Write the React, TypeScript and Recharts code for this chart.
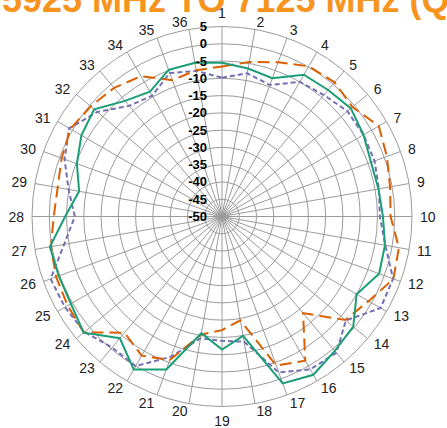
import { RadarChart, Radar, PolarGrid, PolarAngleAxis, PolarRadiusAxis } from "recharts";

const W = 447;
const H = 428;
const CX = 222;
const CY = 216.5;
const R = 190;

const angles = [
  "1", "2", "3", "4", "5", "6", "7", "8", "9", "10", "11", "12",
  "13", "14", "15", "16", "17", "18", "19", "20", "21", "22", "23", "24",
  "25", "26", "27", "28", "29", "30", "31", "32", "33", "34", "35", "36",
];

// solid teal trace
const green = [
  -5.5, -6.5, -7.4, -2.6, -2.2, -1.3, -2.7, -4.1, -4.0, -3.4, -2.1, -1.6,
  -5.0, -0.4, 0.8, 2.9, 1.4, -14.9, -11.5, -15.7, -2.9, 1.1, -4.0, 2.3,
  0.5, 0.3, 0.6, -4.6, -8.0, -5.3, -3.0, -1.7, -6.3, -8.3, -4.8, -4.8,
];

// long dash orange trace
const orange = [
  -6.6, -4.6, -2.5, 0.2, 0.7, -0.7, 2.4, 0.8, -0.6, -1.2, 2.0, 2.8,
  -1.0, -3.4, -13.5, -1.8, -4.1, -19.5, -17.1, -15.3, -5.8, -3.5, -6.1, 2.2,
  1.6, 1.1, 0.3, -1.3, -1.7, -0.6, 0.7, -0.4, -1.4, -3.1, -8.0, -7.0,
];

// short dash purple trace
const purple = [
  -9.8, -7.9, -9.5, -5.0, -4.1, -2.6, -2.7, -3.0, -3.9, -4.3, -2.0, 2.7,
  3.0, -3.2, 1.5, 1.1, -2.0, -13.2, -14.0, -14.2, -6.8, 0.0, -0.5, 2.0,
  2.5, 2.8, -3.6, -7.4, -4.9, -1.5, 1.1, -2.9, -8.2, -9.6, -5.8, -7.2,
];

const radiusTicks = [-50, -45, -40, -35, -30, -25, -20, -15, -10, -5, 0, 5];

const data = angles.map((a, i) => ({
  angle: a,
  green: green[i],
  orange: orange[i],
  purple: purple[i],
}));

// labels sit just outside the ring, anchored away from the centre
function AngleTick(props: any) {
  const { index, payload } = props;
  const deg = index * 10; // clockwise from top
  const rad = (deg * Math.PI) / 180;
  const r = R + 8;
  let x = CX + r * Math.sin(rad);
  let y = CY - r * Math.cos(rad);
  let anchor: "start" | "middle" | "end" = "middle";
  if (deg === 0) y -= 6;
  else if (deg === 180) y += 6;
  else if (deg < 180) anchor = "start";
  else anchor = "end";
  return (
    <text
      x={x}
      y={y}
      textAnchor={anchor}
      dominantBaseline="central"
      fontSize={14}
      fill="#222"
      fontFamily="'Liberation Sans', Arial, sans-serif"
    >
      {payload.value}
    </text>
  );
}

function RadiusTick(props: any) {
  const { y, payload } = props;
  return (
    <text
      x={CX - 15}
      y={y}
      textAnchor="end"
      dominantBaseline="central"
      fontSize={13}
      fontWeight="bold"
      fill="#000"
      fontFamily="'Liberation Sans', Arial, sans-serif"
    >
      {payload.value}
    </text>
  );
}

export default function App() {
  return (
    <div
      style={{
        position: "fixed",
        left: 0,
        top: 0,
        width: W,
        height: H,
        overflow: "hidden",
        background: "#fff",
      }}
    >
      <RadarChart
        width={W}
        height={H}
        data={data}
        cx={CX}
        cy={CY}
        outerRadius={R}
        margin={{ top: 0, right: 0, bottom: 0, left: 0 }}
      >
        <PolarGrid gridType="circle" stroke="#9a9a9a" />
        <PolarAngleAxis dataKey="angle" tick={AngleTick} tickLine={false} axisLine={false} />
        <PolarRadiusAxis
          angle={90}
          type="number"
          domain={[-50, 5]}
          ticks={radiusTicks}
          tickCount={12}
          allowDataOverflow
          axisLine={false}
          tickLine={false}
          tick={RadiusTick}
        />
        <Radar
          dataKey="purple"
          stroke="#7570B3"
          strokeWidth={2}
          strokeDasharray="5 3"
          fill="none"
          fillOpacity={0}
          dot={false}
          isAnimationActive={false}
        />
        <Radar
          dataKey="orange"
          stroke="#D95F02"
          strokeWidth={2}
          strokeDasharray="12 6"
          fill="none"
          fillOpacity={0}
          dot={false}
          isAnimationActive={false}
        />
        <Radar
          dataKey="green"
          stroke="#1B9E77"
          strokeWidth={2}
          fill="none"
          fillOpacity={0}
          dot={false}
          isAnimationActive={false}
        />
      </RadarChart>
      <svg
        width={W}
        height={H}
        style={{ position: "absolute", left: 0, top: 0, pointerEvents: "none" }}
      >
        <text
          x={2}
          y={12}
          fontSize={36}
          fontWeight="bold"
          fill="#F7941D"
          fontFamily="'Liberation Sans', Arial, sans-serif"
        >
          5925 MHz TO 7125 MHz (QUASI-PEAK)
        </text>
      </svg>
    </div>
  );
}
